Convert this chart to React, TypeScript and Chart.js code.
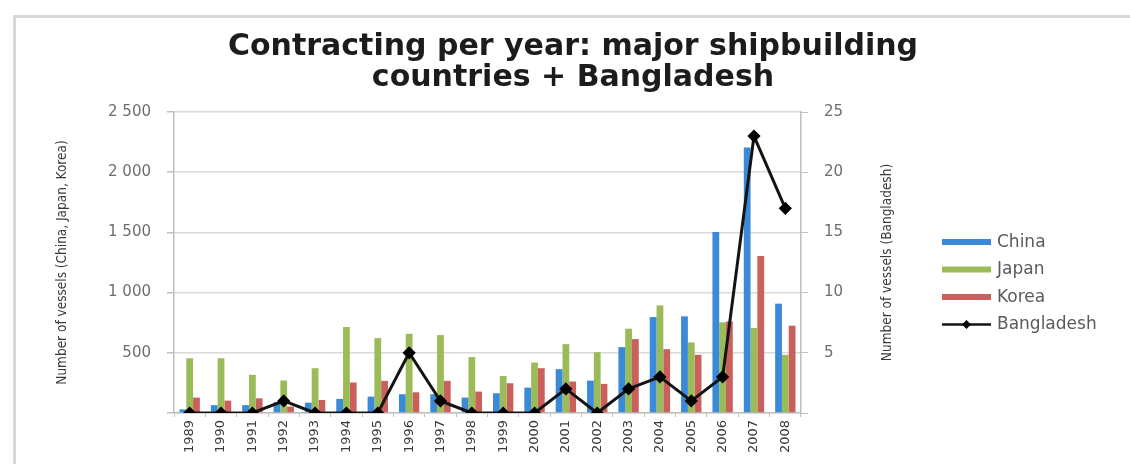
import React, { useEffect, useRef } from "react";
import { Chart, registerables } from "chart.js";

Chart.register(...registerables);

const years = ["1989", "1990", "1991", "1992", "1993", "1994", "1995", "1996", "1997", "1998", "1999", "2000", "2001", "2002", "2003", "2004", "2005", "2006", "2007", "2008"];
const china = [30, 65, 65, 90, 86, 117, 136, 156, 156, 128, 164, 211, 364, 269, 547, 797, 803, 1503, 2205, 908];
const japan = [455, 455, 317, 270, 372, 714, 622, 658, 647, 464, 308, 419, 572, 505, 700, 894, 586, 753, 706, 483];
const korea = [128, 103, 122, 53, 108, 253, 267, 172, 267, 178, 247, 372, 261, 242, 614, 530, 483, 760, 1303, 725];
const bangladesh = [0, 0, 0, 1, 0, 0, 0, 5, 1, 0, 0, 0, 2, 0, 2, 3, 1, 3, 23, 17];

const titleLines = ["Contracting per year: major shipbuilding", "countries + Bangladesh"];
const leftAxisTitle = "Number of vessels (China, Japan, Korea)";
const rightAxisTitle = "Number of vessels (Bangladesh)";

const fmtThousands = (v: number) => {
  if (v === 0) return "";
  if (v >= 1000) return `${Math.floor(v / 1000)} ${String(v % 1000).padStart(3, "0")}`;
  return String(v);
};

const customPlugin = {
  id: "customDecor",
  afterDraw(chart: any) {
    const ctx = chart.ctx;
    const area = chart.chartArea;
    // right axis title (reads bottom to top)
    ctx.save();
    ctx.translate(887, (area.top + area.bottom) / 2);
    ctx.rotate(-Math.PI / 2);
    ctx.font = "13.5px 'DejaVu Sans Condensed'";
    ctx.fillStyle = "#3a3a3a";
    ctx.textAlign = "center";
    ctx.textBaseline = "middle";
    ctx.fillText(rightAxisTitle, 0, 0);
    ctx.restore();

    // legend
    const rows = [242, 269.5, 297, 324.5];
    const x0 = 942;
    const x1 = 991;
    ctx.save();
    ctx.font = "17px 'DejaVu Sans'";
    ctx.textBaseline = "middle";
    ctx.textAlign = "left";
    const order = [1, 2, 3, 0];
    order.forEach((di, r) => {
      const ds = chart.data.datasets[di];
      const y = rows[r];
      if (ds.type === "line") {
        ctx.strokeStyle = ds.borderColor;
        ctx.lineWidth = 2.5;
        ctx.beginPath();
        ctx.moveTo(x0, y);
        ctx.lineTo(x1, y);
        ctx.stroke();
        const cx = (x0 + x1) / 2;
        ctx.fillStyle = "#000";
        ctx.beginPath();
        ctx.moveTo(cx, y - 4.5);
        ctx.lineTo(cx + 4.5, y);
        ctx.lineTo(cx, y + 4.5);
        ctx.lineTo(cx - 4.5, y);
        ctx.closePath();
        ctx.fill();
      } else {
        ctx.fillStyle = ds.backgroundColor;
        ctx.fillRect(x0, y - 3, x1 - x0, 6);
      }
      ctx.fillStyle = "#5a5a5a";
      ctx.fillText(ds.label, 997, y + 0.5);
    });
    ctx.restore();
  },
};

export default function App() {
  const ref = useRef<HTMLCanvasElement | null>(null);

  useEffect(() => {
    if (!ref.current) return;
    const chart = new Chart(ref.current, {
      type: "bar",
      data: {
        labels: years,
        datasets: [
          {
            type: "line",
            label: "Bangladesh",
            data: bangladesh,
            yAxisID: "y1",
            borderColor: "#141414",
            borderWidth: 3,
            pointStyle: "rectRot",
            pointRadius: 4.5,
            pointBackgroundColor: "#000",
            pointBorderColor: "#000",
            tension: 0,
            order: 0,
          } as any,
          {
            type: "bar",
            label: "China",
            data: china,
            yAxisID: "y",
            backgroundColor: "#3b8ad8",
            barPercentage: 1,
            categoryPercentage: 0.65,
            order: 1,
          },
          {
            type: "bar",
            label: "Japan",
            data: japan,
            yAxisID: "y",
            backgroundColor: "#9bbb59",
            barPercentage: 1,
            categoryPercentage: 0.65,
            order: 1,
          },
          {
            type: "bar",
            label: "Korea",
            data: korea,
            yAxisID: "y",
            backgroundColor: "#c9605c",
            barPercentage: 1,
            categoryPercentage: 0.65,
            order: 1,
          },
        ],
      },
      options: {
        responsive: false,
        animation: false,
        maintainAspectRatio: false,
        layout: { padding: { top: 0, left: 16, right: 0, bottom: 0 } },
        plugins: {
          legend: { display: false },
          tooltip: { enabled: false },
          title: {
            display: true,
            text: titleLines,
            color: "#1c1c1c",
            font: { family: "'DejaVu Sans'", size: 30, weight: "bold", lineHeight: 1.05 },
            padding: { top: 31, bottom: 18 },
          },
        },
        scales: {
          x: {
            type: "category",
            offset: true,
            grid: {
              display: true,
              drawOnChartArea: false,
              drawTicks: true,
              tickLength: 4,
              color: "#bfbfbf",
              offset: true,
            },
            border: { display: true, color: "#bfbfbf", width: 1.5 },
            ticks: {
              autoSkip: false,
              minRotation: 90,
              maxRotation: 90,
              padding: 3,
              color: "#3a3a3a",
              font: { family: "'DejaVu Sans'", size: 13 },
            },
            afterFit: (s: any) => {
              s.height = 51;
            },
          },
          y: {
            position: "left",
            min: 0,
            max: 2500,
            ticks: {
              stepSize: 500,
              padding: 16,
              color: "#6e6e6e",
              font: { family: "'DejaVu Sans'", size: 15 },
              callback: (v: any) => fmtThousands(Number(v)),
            },
            grid: {
              color: "#d9d9d9",
              lineWidth: 1.5,
              tickLength: 7,
              tickColor: "#bfbfbf",
            },
            border: { display: true, color: "#bfbfbf", width: 1.5 },
            title: {
              display: true,
              text: leftAxisTitle,
              color: "#3a3a3a",
              font: { family: "'DejaVu Sans Condensed'", size: 13.5, lineHeight: 1.2 },
              padding: { top: 38, bottom: 0 },
            },
            afterFit: (s: any) => {
              s.width = 158;
            },
          },
          y1: {
            position: "right",
            min: 0,
            max: 25,
            ticks: {
              stepSize: 5,
              padding: 16,
              color: "#6e6e6e",
              font: { family: "'DejaVu Sans'", size: 15 },
              callback: (v: any) => (Number(v) === 0 ? "" : String(v)),
            },
            grid: {
              drawOnChartArea: false,
              tickLength: 7,
              tickColor: "#bfbfbf",
            },
            border: { display: true, color: "#bfbfbf", width: 1.5 },
            afterFit: (s: any) => {
              s.width = 329;
            },
          },
        },
      },
      plugins: [customPlugin],
    });
    return () => chart.destroy();
  }, []);

  return (
    <div
      style={{
        position: "fixed",
        left: 0,
        top: 0,
        width: 1130,
        height: 464,
        overflow: "hidden",
        background: "#ffffff",
      }}
    >
      <div
        style={{
          position: "absolute",
          left: 13,
          top: 15,
          width: 1300,
          height: 700,
          borderLeft: "3px solid #d8d8d8",
          borderTop: "3px solid #d8d8d8",
          borderRight: "none",
          borderBottom: "none",
        }}
      />
      <canvas
        ref={ref}
        width={1130}
        height={464}
        style={{ position: "absolute", left: 0, top: 0, width: 1130, height: 464 }}
      />
    </div>
  );
}
